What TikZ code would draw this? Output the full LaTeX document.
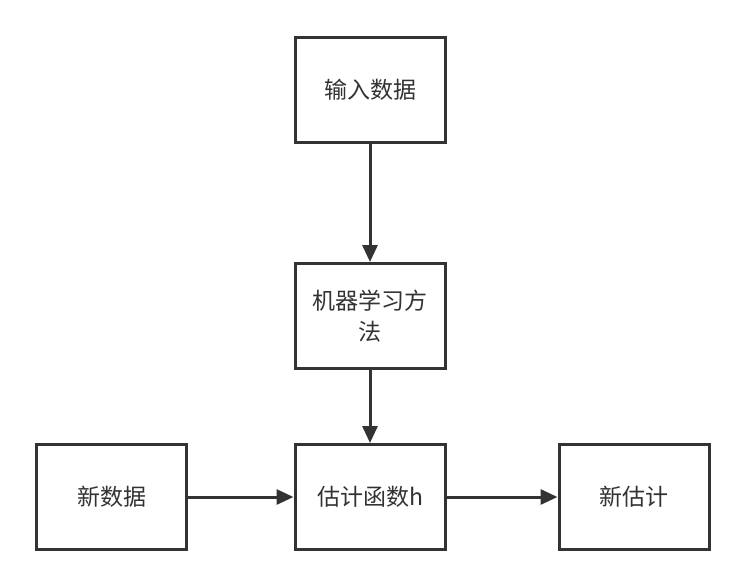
\documentclass[tikz,border=0pt]{standalone}
\usepackage{fontspec}
\setmainfont{Noto Sans CJK SC}
\usetikzlibrary{positioning,arrows.meta}
\definecolor{ink}{HTML}{333333}

\begin{document}
\begin{tikzpicture}[
    box/.style={
        draw=ink,
        line width=3pt,
        fill=white,
        text=ink,
        minimum width=150pt,
        minimum height=105pt,
        align=center,
        font=\fontsize{23pt}{31pt}\selectfont
    },
    link/.style={
        draw=ink,
        line width=3pt,
        ->
    },
    >={Triangle[length=17pt,width=15pt]}
    ]
\useasboundingbox (0,0) rectangle (746pt,-587pt);
\node[box] (input) at (370pt,-89.5pt) {输入数据};
\node[box, below=118.5pt of input] (method) {机器学习方\\法};
\node[box, below=73pt of method] (estimate) {估计函数h};
\node[box, left=105.5pt of estimate] (newdata) {新数据};
\node[box, right=111pt of estimate] (newest) {新估计};

\draw[link] (input) -- (method);
\draw[link] (method) -- (estimate);
\draw[link] (newdata) -- (estimate);
\draw[link] (estimate) -- (newest);
\end{tikzpicture}
\end{document}
